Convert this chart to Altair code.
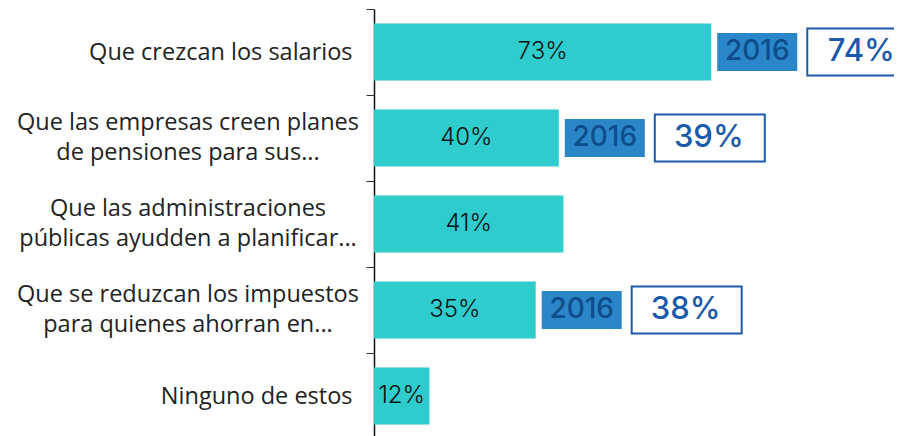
import altair as alt
import pandas as pd

categories = [
    "Que crezcan los salarios",
    "Que las empresas creen planes|de pensiones para sus...",
    "Que las administraciones|públicas ayudden a planificar...",
    "Que se reduzcan los impuestos|para quienes ahorran en...",
    "Ninguno de estos",
]
values_2018 = [73, 40, 41, 35, 12]
values_2016 = [74, 39, None, 38, None]
year_prev = "2016"

df = pd.DataFrame({"cat": categories, "pct": values_2018, "prev": values_2016})
df["half"] = df["pct"] / 2
df["pct_label"] = df["pct"].astype(int).astype(str) + "%"
df["prev_label"] = df["prev"].apply(lambda v: "" if pd.isna(v) else f"{int(v)}%")
df["year"] = year_prev

LABEL_FONT = "Open Sans"
LABEL_SIZE = 23.5

y_enc = alt.Y(
    "cat:N",
    sort=categories,
    scale=alt.Scale(paddingInner=0, paddingOuter=0),
    axis=alt.Axis(
        title=None,
        labelExpr="indexof(datum.label, '|') >= 0 ? '' : datum.label",
        labelFont=LABEL_FONT,
        labelFontSize=LABEL_SIZE,
        labelColor="#222222",
        labelPadding=14,
        tickBand="extent",
        tickSize=8,
        tickColor="#333333",
        domainColor="#111111",
        domainWidth=1.5,
        labelLimit=400,
    ),
)
x_scale = alt.Scale(domain=[0, 100])

base = alt.Chart(df)

bars = base.mark_bar(size=57, color="#2ecccd").encode(
    x=alt.X("pct:Q", scale=x_scale, axis=None),
    y=y_enc,
)

multi_labels = base.transform_filter("indexof(datum.cat, '|') >= 0").mark_text(
    lineBreak="|", align="center", baseline="middle", dy=-15, lineHeight=30,
    font=LABEL_FONT, fontSize=LABEL_SIZE, color="#222222",
).encode(
    x=alt.value(-186),
    y=alt.Y("cat:N", sort=categories),
    text="cat:N",
)

bar_text = base.mark_text(font="Inter", fontSize=24, fontWeight=300, color="#111111",
                          align="center", baseline="middle").encode(
    x=alt.X("half:Q", scale=x_scale),
    y=alt.Y("cat:N", sort=categories),
    text="pct_label:N",
)

prev_df = base.transform_filter("isValid(datum.prev)")

year_box = prev_df.mark_bar(size=38, color="#2a86c8", xOffset=6, x2Offset=86).encode(
    x=alt.X("pct:Q", scale=x_scale),
    x2="pct:Q",
    y=alt.Y("cat:N", sort=categories),
)
year_text = prev_df.mark_text(font="Inter", fontSize=28, fontWeight=500, color="#0e4d8c",
                              align="center", baseline="middle", dx=46).encode(
    x=alt.X("pct:Q", scale=x_scale),
    y=alt.Y("cat:N", sort=categories),
    text="year:N",
)
val_box = prev_df.mark_bar(size=47, fill="white", stroke="#1b5aab", strokeWidth=2,
                           xOffset=96, x2Offset=206).encode(
    x=alt.X("pct:Q", scale=x_scale),
    x2="pct:Q",
    y=alt.Y("cat:N", sort=categories),
)
val_text = prev_df.mark_text(font="Inter", fontSize=31, fontWeight=500, color="#1b5aab",
                             align="center", baseline="middle", dx=150).encode(
    x=alt.X("pct:Q", scale=x_scale),
    y=alt.Y("cat:N", sort=categories),
    text="prev_label:N",
)

chart = alt.layer(bars, multi_labels, bar_text, year_box, year_text, val_box, val_text).properties(
    width=462,
    height=430,
    padding={"left": 366, "top": 1, "right": 58, "bottom": 0},
    autosize=alt.AutoSizeParams(type="none"),
).configure_view(stroke=None)

chart.save("out.html", embed_options={"renderer": "svg", "actions": False})
